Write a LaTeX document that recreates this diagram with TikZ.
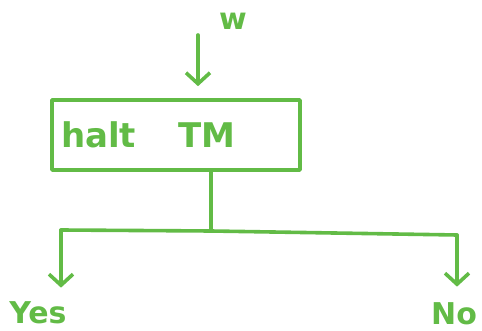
\documentclass[tikz,border=0pt]{standalone}
\usepackage{fontspec}
\setmainfont{DejaVu Sans}
\usetikzlibrary{arrows.meta}
\definecolor{pen}{RGB}{98,187,70}
\tikzset{
  ink/.style={draw=pen, line width=3.6pt, line cap=round, line join=round},
  arr/.style={ink, -{Straight Barb[length=11pt, width=24pt, line width=3.6pt]}},
  word/.style={text=pen, inner sep=0pt, font=\bfseries\fontsize{30}{34}\selectfont},
}
\begin{document}
\begin{tikzpicture}[x=1pt, y=-1pt]
  \useasboundingbox (0,0) rectangle (482,331);
  % machine box
  \node[ink, minimum width=248pt, minimum height=70pt, text width=230pt,
        inner xsep=9pt, align=left, text=pen,
        font=\bfseries\fontsize{34}{38}\selectfont] (box) at (176,135)
        {halt\hspace{42pt}TM};
  % input
  \node[word] (w) at (233,21) {w};
  \coordinate (win) at (198,35);
  \draw[arr] (win) -- ([yshift=12pt]box.north -| win);
  % split
  \coordinate (junc) at (211,231);
  \coordinate (jl) at (61,230);
  \coordinate (jr) at (457,235);
  \draw[ink] (box.south -| junc) -- (junc);
  \draw[ink] (jl) -- (junc) -- (jr);
  % outcomes
  \node[word] (yes) at (38,313) {Yes};
  \node[word] (no) at (454,314) {No};
  \draw[arr, shorten >=14pt] (jl) -- (jl |- yes.north);
  \draw[arr, shorten >=16pt] (jr) -- (jr |- no.north);
\end{tikzpicture}
\end{document}
